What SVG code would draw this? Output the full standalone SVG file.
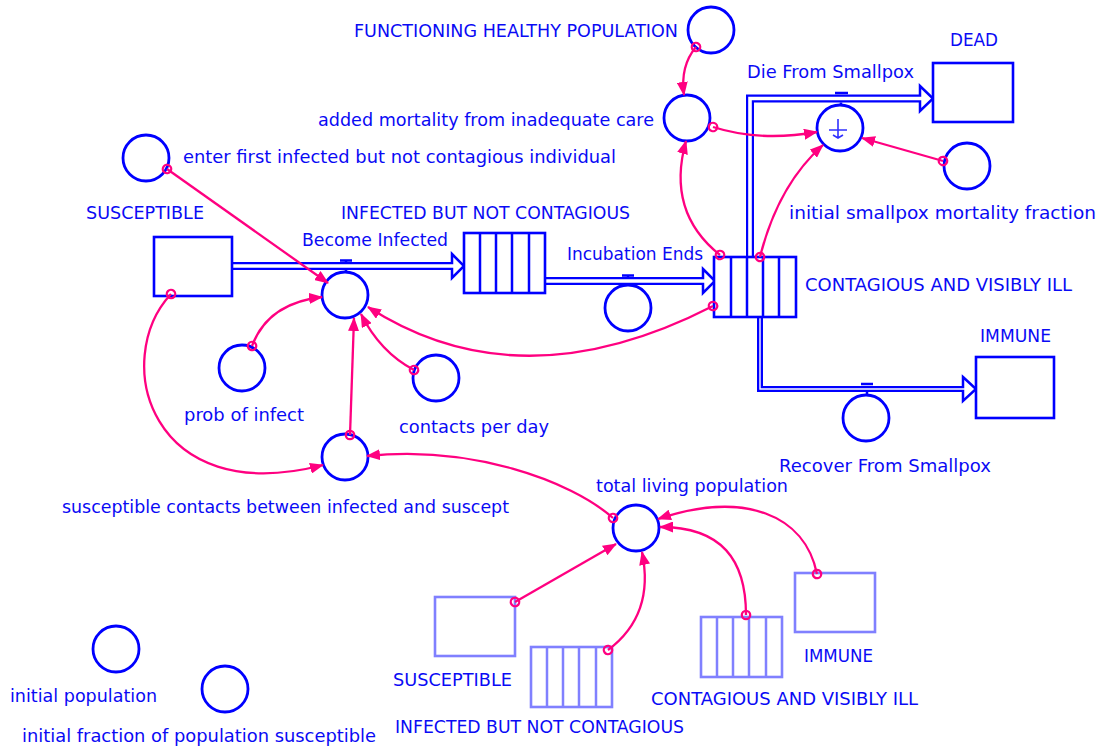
<svg xmlns="http://www.w3.org/2000/svg" width="1100" height="746" viewBox="0 0 1100 746">
<style>
.bg{fill:#ffffff}
.stock{fill:#ffffff;stroke:#0000ff;stroke-width:2.6}
.ghost{fill:#ffffff;stroke:#8080ff;stroke-width:2.6}
.div{fill:none;stroke:#0000ff;stroke-width:2.5}
.gdiv{fill:none;stroke:#8080ff;stroke-width:2.5}
.aux{fill:#ffffff;stroke:#0000ff;stroke-width:2.8}
.valve{fill:none;stroke:#0000ff;stroke-width:2.5}
.sym{fill:none;stroke:#3030ff;stroke-width:1.6}
.lbl{font-family:"DejaVu Sans","Liberation Sans",sans-serif;font-size:17px;fill:#0a0af5}
.glbl{font-family:"DejaVu Sans","Liberation Sans",sans-serif;font-size:17px;fill:#0a0af5}
.pipeo{fill:none;stroke:#0000ff;stroke-width:8;stroke-linejoin:miter}
.pipei{fill:none;stroke:#ffffff;stroke-width:3.6;stroke-linejoin:miter}
.pipeo2{fill:none;stroke:#0000ff;stroke-width:6;stroke-linejoin:miter}
.pipei2{fill:none;stroke:#ffffff;stroke-width:1.4;stroke-linejoin:miter}
.head{fill:#ffffff;stroke:#0000ff;stroke-width:2.5;stroke-linejoin:miter}
.link{fill:none;stroke:#ff0080;stroke-width:2.3;marker-start:url(#o);marker-end:url(#a)}
</style>
<defs>
<marker id="a" viewBox="0 0 14 11" refX="13" refY="5.5" markerWidth="14" markerHeight="11" markerUnits="userSpaceOnUse" orient="auto">
<path d="M0,0 L14,5.5 L0,11 Z" fill="#ff0080"/>
</marker>
<marker id="o" viewBox="0 0 14 14" refX="7" refY="7" markerWidth="14" markerHeight="14" markerUnits="userSpaceOnUse" orient="auto">
<circle cx="7" cy="7" r="4.2" fill="none" stroke="#ff0080" stroke-width="2.3"/>
</marker>
</defs>
<rect class="bg" x="0" y="0" width="1100" height="746"/>

<g id="flows">
  <g id="flow-become-infected">
    <polygon class="head" points="452,254 464,266 452,278"/>
    <path class="pipeo" d="M232,266 H453"/>
    <path class="pipei" d="M230,266 H454"/>
  </g>
  <g id="flow-incubation-ends">
    <polygon class="head" points="703,269 715,281 703,293"/>
    <path class="pipeo" d="M545,281 H704"/>
    <path class="pipei" d="M543,281 H705"/>
  </g>
  <g id="flow-die">
    <polygon class="head" points="920,86 933,98.5 920,111"/>
    <path class="pipeo" d="M750,258 V98.5 H921"/>
    <path class="pipei" d="M750,260 V98.5 H922"/>
  </g>
  <g id="flow-recover">
    <polygon class="head" points="963,377 976,389 963,401"/>
    <path class="pipeo2" d="M760,316 V389 H964"/>
    <path class="pipei2" d="M760,314 V389 H965"/>
  </g>
</g>

<g id="node-susceptible">
  <rect class="stock" x="154" y="237" width="78" height="59"/>
  <text class="lbl" x="86" y="219" textLength="118" lengthAdjust="spacingAndGlyphs">SUSCEPTIBLE</text>
</g>
<g id="node-infected">
  <rect class="stock" x="464" y="233" width="81" height="60"/>
  <path class="div" d="M480,233 V293 M496,233 V293 M512,233 V293 M529,233 V293"/>
  <text class="lbl" x="341" y="219" textLength="289" lengthAdjust="spacingAndGlyphs">INFECTED BUT NOT CONTAGIOUS</text>
</g>
<g id="node-contagious">
  <rect class="stock" x="714" y="257" width="82" height="60"/>
  <path class="div" d="M731,257 V317 M747,257 V317 M763,257 V317 M779,257 V317"/>
  <text class="lbl" x="805" y="291" textLength="267" lengthAdjust="spacingAndGlyphs">CONTAGIOUS AND VISIBLY ILL</text>
</g>
<g id="node-dead">
  <rect class="stock" x="933" y="63" width="80" height="59"/>
  <text class="lbl" x="950" y="46" textLength="48" lengthAdjust="spacingAndGlyphs">DEAD</text>
</g>
<g id="node-immune">
  <rect class="stock" x="976" y="357" width="78" height="61"/>
  <text class="lbl" x="980" y="342" textLength="71" lengthAdjust="spacingAndGlyphs">IMMUNE</text>
</g>

<g id="node-become-infected">
  <path class="valve" d="M340,260.5 H352 M346,260.5 V262 M346,270 V272"/>
  <circle class="aux" cx="345" cy="295" r="23"/>
  <text class="lbl" x="302" y="246" textLength="146" lengthAdjust="spacingAndGlyphs">Become Infected</text>
</g>
<g id="node-incubation-ends">
  <path class="valve" d="M622,275.5 H634 M628,275.5 V277 M628,285 V286"/>
  <circle class="aux" cx="628" cy="308" r="23"/>
  <text class="lbl" x="567" y="260" textLength="136" lengthAdjust="spacingAndGlyphs">Incubation Ends</text>
</g>
<g id="node-die-from-smallpox">
  <path class="valve" d="M835,93 H848 M841,102.5 V105"/>
  <circle class="aux" cx="840" cy="128" r="23"/>
  <path class="sym" d="M838,119 V137 M829,130 H847 M833,135 L838,138 L843,135"/>
  <text class="lbl" x="747" y="78" textLength="167" lengthAdjust="spacingAndGlyphs">Die From Smallpox</text>
</g>
<g id="node-recover-from-smallpox">
  <path class="valve" d="M861,384 H873 M867,392 V395"/>
  <circle class="aux" cx="866" cy="418" r="23"/>
  <text class="lbl" x="779" y="472" textLength="212" lengthAdjust="spacingAndGlyphs">Recover From Smallpox</text>
</g>

<g id="node-functioning-healthy-population">
  <circle class="aux" cx="711" cy="30" r="23"/>
  <text class="lbl" x="354" y="37" textLength="324" lengthAdjust="spacingAndGlyphs">FUNCTIONING HEALTHY POPULATION</text>
</g>
<g id="node-added-mortality">
  <circle class="aux" cx="687" cy="118" r="23"/>
  <text class="lbl" x="318" y="126" textLength="336" lengthAdjust="spacingAndGlyphs">added mortality from inadequate care</text>
</g>
<g id="node-initial-smallpox-mortality-fraction">
  <circle class="aux" cx="967" cy="166" r="23"/>
  <text class="lbl" x="789" y="219" textLength="307" lengthAdjust="spacingAndGlyphs">initial smallpox mortality fraction</text>
</g>
<g id="node-enter-first-infected">
  <circle class="aux" cx="146" cy="158" r="23"/>
  <text class="lbl" x="183" y="163" textLength="433" lengthAdjust="spacingAndGlyphs">enter first infected but not contagious individual</text>
</g>
<g id="node-prob-of-infect">
  <circle class="aux" cx="242" cy="368" r="23"/>
  <text class="lbl" x="184" y="421" textLength="120" lengthAdjust="spacingAndGlyphs">prob of infect</text>
</g>
<g id="node-contacts-per-day">
  <circle class="aux" cx="436" cy="378" r="23"/>
  <text class="lbl" x="399" y="433" textLength="150" lengthAdjust="spacingAndGlyphs">contacts per day</text>
</g>
<g id="node-susceptible-contacts">
  <circle class="aux" cx="345" cy="457" r="23"/>
  <text class="lbl" x="62" y="513" textLength="447" lengthAdjust="spacingAndGlyphs">susceptible contacts between infected and suscept</text>
</g>
<g id="node-total-living-population">
  <circle class="aux" cx="636" cy="528" r="23"/>
  <text class="lbl" x="596" y="492" textLength="192" lengthAdjust="spacingAndGlyphs">total living population</text>
</g>
<g id="node-initial-population">
  <circle class="aux" cx="116" cy="649" r="23"/>
  <text class="lbl" x="10" y="702" textLength="147" lengthAdjust="spacingAndGlyphs">initial population</text>
</g>
<g id="node-initial-fraction-susceptible">
  <circle class="aux" cx="225" cy="689" r="23"/>
  <text class="lbl" x="22" y="742" textLength="354" lengthAdjust="spacingAndGlyphs">initial fraction of population susceptible</text>
</g>

<g id="node-ghost-susceptible">
  <rect class="ghost" x="435" y="597" width="80" height="59"/>
  <text class="glbl" x="393" y="686" textLength="119" lengthAdjust="spacingAndGlyphs">SUSCEPTIBLE</text>
</g>
<g id="node-ghost-infected">
  <rect class="ghost" x="531" y="647" width="81" height="60"/>
  <path class="gdiv" d="M547,647 V707 M563,647 V707 M579,647 V707 M596,647 V707"/>
  <text class="glbl" x="395" y="733" textLength="289" lengthAdjust="spacingAndGlyphs">INFECTED BUT NOT CONTAGIOUS</text>
</g>
<g id="node-ghost-contagious">
  <rect class="ghost" x="701" y="617" width="81" height="60"/>
  <path class="gdiv" d="M717,617 V677 M733,617 V677 M749,617 V677 M766,617 V677"/>
  <text class="glbl" x="651" y="705" textLength="267" lengthAdjust="spacingAndGlyphs">CONTAGIOUS AND VISIBLY ILL</text>
</g>
<g id="node-ghost-immune">
  <rect class="ghost" x="795" y="573" width="80" height="59"/>
  <text class="glbl" x="804" y="662" textLength="69" lengthAdjust="spacingAndGlyphs">IMMUNE</text>
</g>

<g id="connectors">
  <path class="link" d="M696,47 Q680,66 684,95"/>
  <path class="link" d="M713,127 Q760,142 817,132"/>
  <path class="link" d="M720,255 Q666,212 686,141"/>
  <path class="link" d="M760,257 Q778,185 823,145"/>
  <path class="link" d="M943,161 L862,138"/>
  <path class="link" d="M167,169 L328,283"/>
  <path class="link" d="M252,346 Q268,303 322,297"/>
  <path class="link" d="M414,370 Q380,352 361,314"/>
  <path class="link" d="M713,306 Q520,405 368,307"/>
  <path class="link" d="M350,435 L354,318"/>
  <path class="link" d="M171,294 C110,360 150,510 323,465"/>
  <path class="link" d="M613,518 C570,480 470,445 367,456"/>
  <path class="link" d="M515,602 L616,544"/>
  <path class="link" d="M608,650 Q655,615 642,552"/>
  <path class="link" d="M746,615 C746,560 722,527 660,527"/>
  <path class="link" d="M817,574 C805,515 745,490 658,519"/>
</g>
</svg>
